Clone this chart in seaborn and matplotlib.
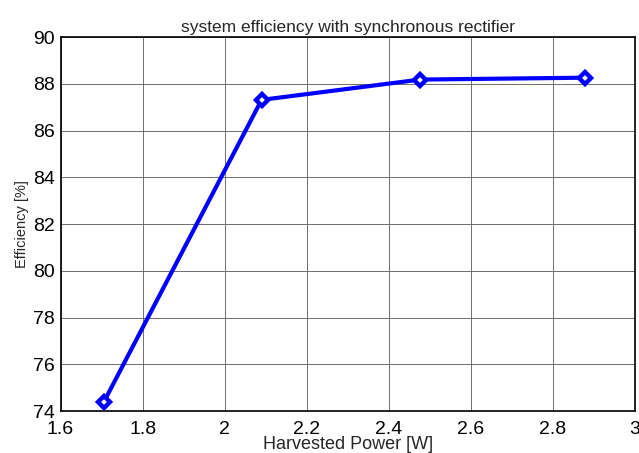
import matplotlib
matplotlib.use("Agg")
import matplotlib.pyplot as plt
import seaborn as sns
import pandas as pd

power = [1.706, 2.09, 2.477, 2.878]
efficiency = [74.4, 87.32, 88.19, 88.27]
xticks = [1.6, 1.8, 2.0, 2.2, 2.4, 2.6, 2.8, 3.0]
xticklabels = ["1.6", "1.8", "2", "2.2", "2.4", "2.6", "2.8", "3"]
yticks = [74, 76, 78, 80, 82, 84, 86, 88, 90]

sns.set_style("white")
plt.rcParams['font.family'] = ['Liberation Sans', 'DejaVu Sans']

df = pd.DataFrame({"power": power, "eff": efficiency})
fig = plt.figure(figsize=(6.39, 4.53), dpi=100)
ax = fig.add_axes([0.0947, 0.0927, 0.899, 0.825])
sns.lineplot(data=df, x="power", y="eff", ax=ax, color="#0000ff", linewidth=3,
             marker="D", markersize=6.5, markeredgewidth=3.2, markerfacecolor="white",
             markeredgecolor="#0000ff", sort=False, zorder=3)
ax.set_xlim(1.6, 3.0)
ax.set_ylim(74, 90)
ax.set_xticks(xticks)
ax.set_xticklabels(xticklabels)
ax.set_yticks(yticks)
ax.grid(True, color="#6e6e6e", linewidth=0.7, linestyle="-")
ax.tick_params(direction="in", length=3, width=0.8, labelsize=14, colors="black")
ax.tick_params(axis="x", pad=7)
ax.tick_params(axis="y", pad=4)
for s in ax.spines.values():
    s.set_color("black")
    s.set_linewidth(1.2)
ax.set_xlabel("Harvested Power [W]", fontsize=13, labelpad=-1.5)
ax.set_ylabel("Efficiency [%]", fontsize=10.5, labelpad=3)
ax.set_title("system efficiency with synchronous rectifier", fontsize=12.5, pad=4)
fig.savefig("out.png", dpi=100)
